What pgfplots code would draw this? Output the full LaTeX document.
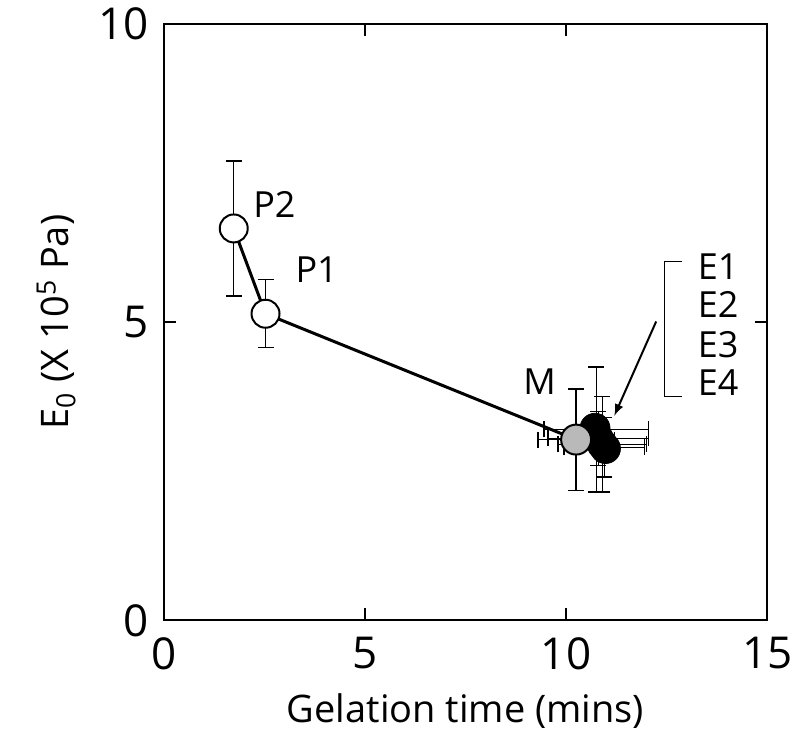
\documentclass[border=0pt]{standalone}
\usepackage{pgfplots}
\pgfplotsset{compat=1.18}
\usepackage{fontspec}
\setmainfont{Open Sans}
\begin{document}
\begin{tikzpicture}
\begin{axis}[
  scale only axis, width=302pt, height=298.5pt,
  xmin=0, xmax=15, ymin=0, ymax=10,
  xtick={0,5,10,15}, ytick={0,5,10},
  tick align=inside, major tick length=6pt,
  axis line style={line width=1pt}, tick style={line width=0.8pt,black},
  /pgf/number format/assume math mode=true,
  tick label style={font=\fontsize{22}{26}\selectfont},
  xticklabel style={yshift=-5pt},
  yticklabel style={xshift=-4pt},
  xlabel={Gelation time (mins)},
  ylabel={E\textsubscript{0} (X 10\textsuperscript{5} Pa)},
  label style={font=\fontsize{19}{22}\selectfont},
  xlabel style={yshift=-5pt},
  ylabel style={yshift=4.5pt},
  clip=false,
  error bars/error bar style={line width=0.7pt,black},
  error bars/error mark options={rotate=90,mark size=4pt,line width=0.7pt,black},
]
% bounding box to match the reference frame
\path (axis cs:-4.07,-2.245) rectangle (axis cs:15.77,10.40);

% error bars of the cluster
\addplot[draw=none, mark=none, error bars/.cd, x dir=both, x explicit, y dir=both, y explicit]
  coordinates {
  (10.75,3.20) +- (1.30,1.05)
  (10.80,3.05) +- (1.25,0.45)
  (10.90,2.95) +- (1.10,0.80)
  (10.95,2.90) +- (1.00,0.50)
  (10.25,3.03) +- (0.95,0.85)
};
% connecting line and P points
\addplot[black, line width=1.5pt, mark=*, mark size=7pt,
  mark options={fill=white, draw=black, line width=1pt},
  error bars/.cd, y dir=both, y explicit]
  coordinates {
  (1.74,6.57) +- (0,1.13)
  (2.53,5.14) +- (0,0.57)
};
\addplot[black, line width=1.5pt, mark=none] coordinates {
  (2.53,5.14) (10.25,3.03)
};
% E points (filled black)
\addplot[only marks, mark=*, mark size=7.5pt, mark options={fill=black, draw=black}]
  coordinates {
  (10.72,3.22)
  (10.80,3.05)
  (10.90,2.95)
  (10.98,2.88)
};
% M point (grey)
\addplot[only marks, mark=*, mark size=7.5pt,
  mark options={fill=gray!55, draw=black, line width=1pt}]
  coordinates {(10.25,3.03)};

\begin{scope}[font=\fontsize{18}{21}\selectfont]
\node[anchor=west] at (axis cs:2.05,6.97) {P2};
\node[anchor=west] at (axis cs:3.10,5.88) {P1};
\node at (axis cs:9.34,4.00) {M};
\node[anchor=west] at (axis cs:13.10,5.93) {E1};
\node[anchor=west] at (axis cs:13.10,5.29) {E2};
\node[anchor=west] at (axis cs:13.10,4.62) {E3};
\node[anchor=west] at (axis cs:13.10,3.99) {E4};
\end{scope}
\draw[line width=0.6pt] (axis cs:12.89,6.01) -- (axis cs:12.44,6.01)
  -- (axis cs:12.44,3.75) -- (axis cs:12.89,3.75);
\draw[line width=1pt,-latex] (axis cs:12.24,5.01) -- (axis cs:11.20,3.43);
\end{axis}
\end{tikzpicture}
\end{document}
